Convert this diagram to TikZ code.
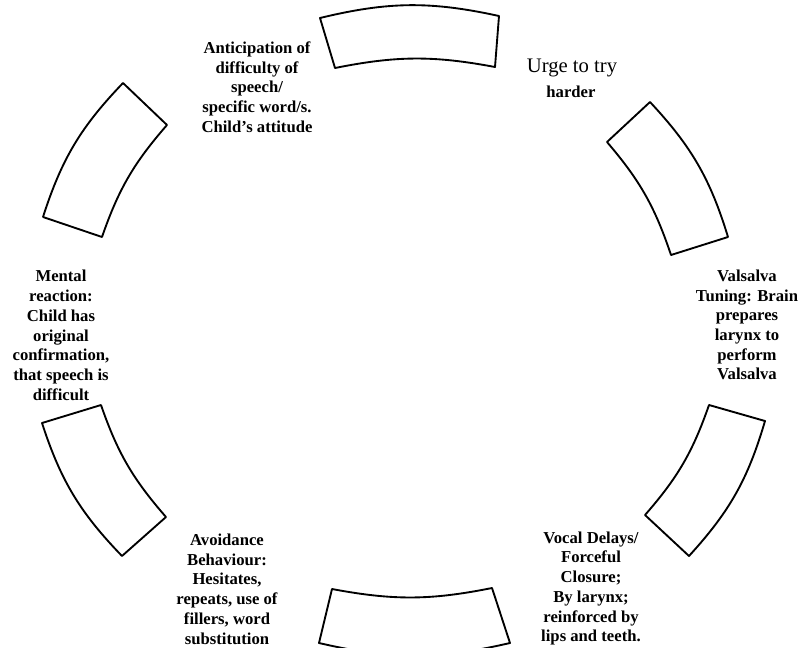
\documentclass[tikz,border=0pt]{standalone}
\usepackage{fontspec}
\setmainfont{Liberation Serif}
\begin{document}
\begin{tikzpicture}[x=0.75pt,y=0.75pt,
  sector/.style={draw=black, line width=1.4pt, line join=round},
  lbl/.style={font=\bfseries\fontsize{12.5}{14.8}\selectfont, align=center, inner sep=0pt},
  big/.style={font=\fontsize{15.5}{18}\selectfont, inner sep=0pt}]
\useasboundingbox (0,0) rectangle (800,-647);
\clip (0,0) rectangle (800,-647);
% sectors (outer arc clockwise, inner arc back)
\draw[sector] (320,-18) to[bend left=13] (499,-16) -- (495,-67) to[bend right=11] (335,-68) -- cycle;
\draw[sector] (650,-102) to[bend left=13] (728,-237) -- (671,-255) to[bend right=11] (607,-142) -- cycle;
\draw[sector] (765,-421) to[bend left=13] (689,-556) -- (645,-515) to[bend right=11] (709,-405) -- cycle;
\draw[sector] (510,-643) to[bend left=13] (319,-643) -- (332,-589) to[bend right=11] (492,-588) -- cycle;
\draw[sector] (122,-556) to[bend left=13] (42,-423) -- (101,-405) to[bend right=11] (166,-517) -- cycle;
\draw[sector] (43,-217) to[bend left=13] (123,-83) -- (167,-125) to[bend right=11] (102,-237) -- cycle;
% labels
\node[lbl] (anticip) at (257,-87) {Anticipation of\\difficulty of\\speech/\\specific word/s.\\Child's attitude};
\node[big] (urge) at (572,-68) {Urge to try};
\node[lbl] (harder) at (571,-92) {harder};
\node[lbl] (valsalva) at (747,-325) {Valsalva\\Tuning: Brain\\prepares\\larynx to\\perform\\Valsalva};
\node[lbl] (vocal) at (591,-588.5) {Vocal Delays/\\Forceful\\Closure;\\By larynx;\\reinforced by\\lips and teeth.};
\node[lbl] (avoid) at (227,-589) {Avoidance\\Behaviour:\\Hesitates,\\repeats, use of\\fillers, word\\substitution};
\node[lbl] (mental) at (61,-335.5) {Mental\\reaction:\\Child has\\original\\confirmation,\\that speech is\\difficult};
\end{tikzpicture}
\end{document}
